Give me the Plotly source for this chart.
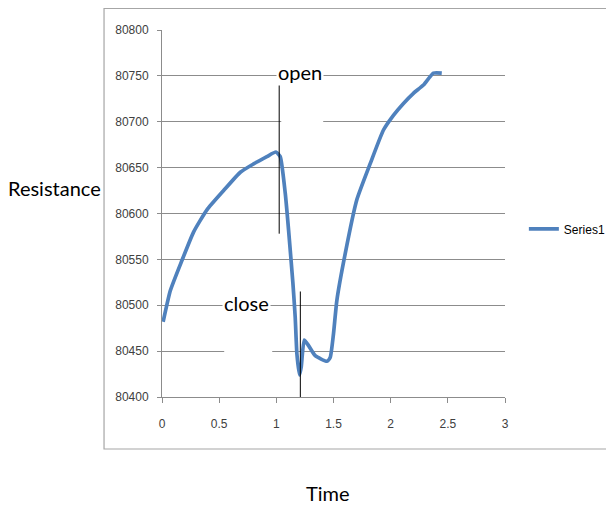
import plotly.graph_objects as go

# Data
time = [0.01, 0.073, 0.175, 0.277, 0.393, 0.539, 0.685, 0.80, 0.917, 0.996,
        1.034, 1.078, 1.107, 1.145, 1.165, 1.18, 1.203, 1.218, 1.244, 1.282,
        1.34, 1.442, 1.471, 1.5, 1.529, 1.602, 1.704, 1.82, 1.937, 2.024,
        2.112, 2.199, 2.286, 2.374, 2.447]
resistance = [80482, 80516, 80549, 80580, 80604, 80625, 80645, 80654, 80662, 80667,
              80662, 80622, 80582, 80524, 80487, 80447, 80424, 80433, 80462, 80456,
              80445, 80439, 80443, 80469, 80505, 80556, 80615, 80654, 80691, 80707,
              80720, 80731, 80740, 80753, 80753]
series_name = "Series1"
x_ticks = [0, 0.5, 1, 1.5, 2, 2.5, 3]
y_ticks = [80400, 80450, 80500, 80550, 80600, 80650, 80700, 80750, 80800]
open_marker = {"x": 1.025, "y0": 80578, "y1": 80754}
close_marker = {"x": 1.21, "y0": 80394, "y1": 80515}

BLUE = "#4F81BD"
GRID = "#8c8c8c"
TICKFONT = dict(family="Liberation Sans, Arial, sans-serif", size=12, color="#404040")
LABELFONT = dict(family="Lato, Liberation Sans, sans-serif", size=20, color="#000000")

fig = go.Figure()
fig.add_trace(go.Scatter(
    x=time, y=resistance, mode="lines", name=series_name,
    line=dict(color=BLUE, width=3.7, shape="spline", smoothing=0.5),
))

# page body has an 8px margin; figure is offset to compensate and made wider
# than the window so the legend never pushes the plot margins
fig.update_layout(
    width=660, height=498,
    margin=dict(l=154, r=163, t=22, b=109),
    paper_bgcolor="white", plot_bgcolor="white",
    showlegend=True,
    legend=dict(x=1.055, xanchor="left", y=0.458, yanchor="middle",
                font=dict(family="Liberation Sans, Arial, sans-serif", size=12, color="#000000"),
                bgcolor="rgba(0,0,0,0)"),
    xaxis=dict(range=[0, 3], tickvals=x_ticks, ticktext=[f"{v:g}" for v in x_ticks],
               showgrid=False, zeroline=False, showline=True, linecolor=GRID, linewidth=1,
               ticks="outside", ticklen=5, tickcolor=GRID, tickfont=TICKFONT,
               ticklabelstandoff=11, fixedrange=True),
    yaxis=dict(range=[80400, 80800], tickvals=y_ticks, ticktext=[str(v) for v in y_ticks],
               showgrid=True, gridcolor=GRID, gridwidth=1, zeroline=False,
               showline=True, linecolor=GRID, linewidth=1,
               ticks="outside", ticklen=4, tickcolor=GRID, tickfont=TICKFONT,
               ticklabelstandoff=6, fixedrange=True),
)

shapes = [
    # outer chart border
    dict(type="rect", xref="paper", yref="paper", x0=-0.169, x1=1.4, y0=-0.1417, y1=1.0586,
         line=dict(color="#a6a6a6", width=1.2), fillcolor="rgba(0,0,0,0)", layer="below"),
    # white boxes interrupting gridlines
    dict(type="rect", xref="x", yref="y", x0=1.043, x1=1.41, y0=80690, y1=80710,
         line=dict(width=0), fillcolor="white", layer="between"),
    dict(type="rect", xref="x", yref="y", x0=0.544, x1=0.964, y0=80440, y1=80460,
         line=dict(width=0), fillcolor="white", layer="between"),
    # open / close marker lines
    dict(type="line", xref="x", yref="y", x0=open_marker["x"], x1=open_marker["x"],
         y0=open_marker["y0"], y1=open_marker["y1"], line=dict(color="black", width=1), layer="above"),
    dict(type="line", xref="x", yref="y", x0=close_marker["x"], x1=close_marker["x"],
         y0=close_marker["y0"], y1=close_marker["y1"], line=dict(color="black", width=1), layer="above"),
]
fig.update_layout(shapes=shapes)

annotations = [
    dict(text="open", xref="x", yref="y", x=1.21, y=80754, showarrow=False,
         xanchor="center", yanchor="middle", font=LABELFONT, bgcolor="white", borderpad=1),
    dict(text="close", xref="x", yref="y", x=0.737, y=80503, showarrow=False,
         xanchor="center", yanchor="middle", font=LABELFONT, bgcolor="white", borderpad=1),
    dict(text="Resistance", xref="paper", yref="paper", x=-0.312, y=0.5695, showarrow=False,
         xanchor="center", yanchor="middle", font=LABELFONT),
    dict(text="Time", xref="paper", yref="paper", x=0.484, y=-0.2616, showarrow=False,
         xanchor="center", yanchor="middle", font=LABELFONT),
]
fig.update_layout(annotations=annotations)

fig.write_html("out.html")
